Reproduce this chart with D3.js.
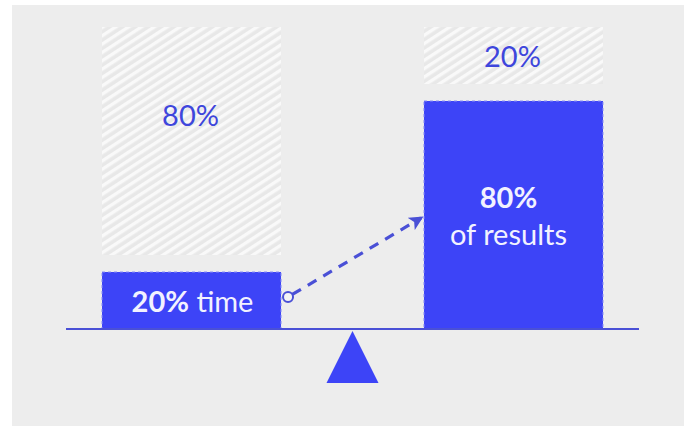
<!DOCTYPE html>
<html>
<head>
<meta charset="utf-8">
<script src="https://cdn.jsdelivr.net/npm/d3@7"></script>
<style>
  body { margin: 0; background: #fff; }
  svg { display: block; }
</style>
</head>
<body>
<div id="chart"></div>
<script>
// data
var categories = ["time", "results"];
var shares = [20, 80];          // blue part (%)
var remainders = [80, 20];      // hatched part (%)
var shareLabels = ["20%", "80%"];
var shareWords = ["time", "of results"];
var remainderLabels = ["80%", "20%"];

var W = 684, H = 426;
var blue = "#3d44f7", ink = "#3e46dc", line = "#4a50d6";
var font = "Lato", fsize = "29px";

var svg = d3.select("#chart").append("svg").attr("width", W).attr("height", H);

// panel background
svg.append("rect").attr("x", 12).attr("y", 5).attr("width", W - 12).attr("height", H - 5)
  .attr("fill", "#ededed");

// hatch pattern
var defs = svg.append("defs");
var pat = defs.append("pattern").attr("id", "hatch").attr("patternUnits", "userSpaceOnUse")
  .attr("width", 7).attr("height", 7).attr("patternTransform", "rotate(-33)");
pat.append("rect").attr("width", 7).attr("height", 7).attr("fill", "#e8e8e8");
pat.append("rect").attr("width", 7).attr("height", 3.4).attr("fill", "#f9f9f9");

// scales
var baseY = 329, gap = 17;
var x = d3.scaleBand().domain(categories).range([102, 603]).paddingInner(0.444);
var y = d3.scaleLinear().domain([0, 100]).range([baseY, baseY - 285]);
var h = function(v) { return y(0) - y(v); };

// hatched remainder
svg.append("g").selectAll("rect").data(categories).enter().append("rect")
  .attr("x", function(d) { return x(d); })
  .attr("width", x.bandwidth())
  .attr("y", function(d, i) { return y(shares[i]) - gap - h(remainders[i]); })
  .attr("height", function(d, i) { return h(remainders[i]); })
  .attr("fill", "url(#hatch)");

// blue share bars
svg.append("g").selectAll("rect").data(categories).enter().append("rect")
  .attr("x", function(d) { return x(d); })
  .attr("width", x.bandwidth())
  .attr("y", function(d, i) { return y(shares[i]); })
  .attr("height", function(d, i) { return h(shares[i]); })
  .attr("fill", blue)
  .attr("stroke", "#8a8ff5").attr("stroke-width", 1).attr("stroke-dasharray", "3,3");

// remainder labels
svg.append("g").selectAll("text").data(categories).enter().append("text")
  .attr("x", function(d) { return x(d) + x.bandwidth() / 2 - 1; })
  .attr("y", function(d, i) {
    var top = y(shares[i]) - gap - h(remainders[i]);
    return i === 0 ? top + 99 : top + 40;
  })
  .attr("text-anchor", "middle")
  .style("font-family", font).style("font-size", fsize)
  .attr("fill", ink)
  .text(function(d, i) { return remainderLabels[i]; });

// share labels
var t0 = svg.append("text")
  .attr("x", x(categories[0]) + x.bandwidth() / 2 + 1).attr("y", 312)
  .attr("text-anchor", "middle").attr("fill", "#f2f2ff")
  .style("font-family", font).style("font-size", fsize);
t0.append("tspan").attr("font-weight", "bold").text(shareLabels[0]);
t0.append("tspan").text(" " + shareWords[0]);

var cx1 = x(categories[1]) + x.bandwidth() / 2;
svg.append("text").attr("x", cx1 - 5).attr("y", 208).attr("text-anchor", "middle")
  .attr("fill", "#f2f2ff").style("font-family", font).style("font-size", fsize)
  .attr("font-weight", "bold").text(shareLabels[1]);
svg.append("text").attr("x", cx1 - 5).attr("y", 245).attr("text-anchor", "middle")
  .attr("fill", "#f2f2ff").style("font-family", font).style("font-size", fsize)
  .text(shareWords[1]);

// baseline
svg.append("line").attr("x1", 66).attr("x2", 639).attr("y1", baseY).attr("y2", baseY)
  .attr("stroke", line).attr("stroke-width", 2);

// fulcrum
var fx = (x.range()[0] + x.range()[1]) / 2;
svg.append("path")
  .attr("d", "M" + fx + "," + (baseY + 2) + "L" + (fx + 26) + "," + 383 + "L" + (fx - 26) + "," + 383 + "Z")
  .attr("fill", blue);

// dashed arrow
defs.append("marker").attr("id", "head").attr("viewBox", "0 0 10 10")
  .attr("refX", 8).attr("refY", 5).attr("markerWidth", 4.5).attr("markerHeight", 4.5)
  .attr("orient", "auto").attr("markerUnits", "strokeWidth")
  .append("path").attr("d", "M0,0L10,5L0,10L2.5,5Z").attr("fill", line);

var ax0 = x(categories[0]) + x.bandwidth() + 7, ay0 = 297;
var ax1 = x(categories[1]) - 3, ay1 = 218;
var ang = Math.atan2(ay1 - ay0, ax1 - ax0);
svg.append("line")
  .attr("x1", ax0 + 5 * Math.cos(ang)).attr("y1", ay0 + 5 * Math.sin(ang))
  .attr("x2", ax1).attr("y2", ay1)
  .attr("stroke", line).attr("stroke-width", 3.2).attr("stroke-dasharray", "10,8")
  .attr("marker-end", "url(#head)");
svg.append("circle").attr("cx", ax0).attr("cy", ay0).attr("r", 5)
  .attr("fill", "#f4f4f4").attr("stroke", line).attr("stroke-width", 2);
</script>
</body>
</html>
